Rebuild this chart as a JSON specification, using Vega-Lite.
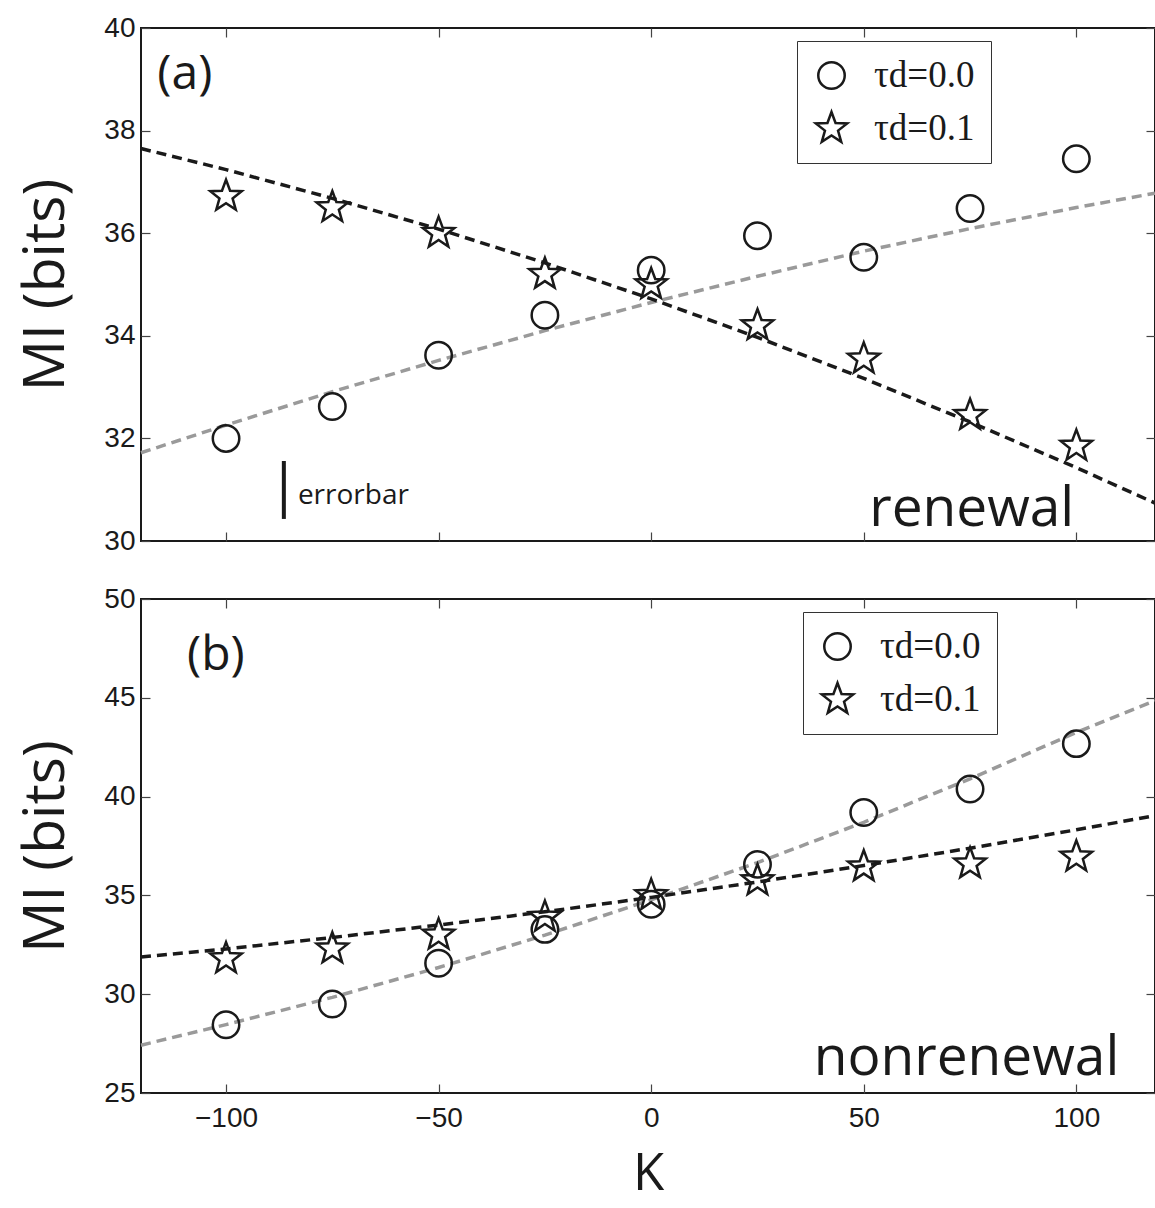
{
  "$schema": "https://vega.github.io/schema/vega-lite/v6.json",
  "background": "white",
  "padding": {"left": 16, "top": 13, "right": 0, "bottom": 6},
  "spacing": 28,
  "config": {
    "view": {"stroke": "#1a1a1a", "strokeWidth": 2},
    "axis": {
      "grid": false, "domain": false,
      "tickColor": "#444", "tickWidth": 1.2, "tickSize": -9,
      "labelFont": "Liberation Sans", "labelFontSize": 28, "labelColor": "#1a1a1a",
      "titleFont": "Open Sans", "titleFontSize": 57, "titleFontWeight": "normal", "titleColor": "#1a1a1a"
    },
    "legend": {
      "strokeColor": "#333", "fillColor": "white", "padding": 16,
      "labelFont": "Liberation Serif", "labelFontSize": 37, "labelColor": "#1a1a1a",
      "symbolSize": 700, "symbolStrokeWidth": 2.5, "symbolStrokeColor": "#1a1a1a",
      "labelOffset": 24, "rowPadding": 12
    }
  },
  "datasets": {
    "pts": [
      {"panel": "a", "series": "τd=0.0", "K": -100, "MI": 32.0},
      {"panel": "a", "series": "τd=0.0", "K": -75, "MI": 32.62},
      {"panel": "a", "series": "τd=0.0", "K": -50, "MI": 33.62},
      {"panel": "a", "series": "τd=0.0", "K": -25, "MI": 34.4},
      {"panel": "a", "series": "τd=0.0", "K": 0, "MI": 35.28},
      {"panel": "a", "series": "τd=0.0", "K": 25, "MI": 35.95},
      {"panel": "a", "series": "τd=0.0", "K": 50, "MI": 35.53},
      {"panel": "a", "series": "τd=0.0", "K": 75, "MI": 36.48},
      {"panel": "a", "series": "τd=0.0", "K": 100, "MI": 37.45},
      {"panel": "a", "series": "τd=0.1", "K": -100, "MI": 36.72},
      {"panel": "a", "series": "τd=0.1", "K": -75, "MI": 36.5},
      {"panel": "a", "series": "τd=0.1", "K": -50, "MI": 36.0},
      {"panel": "a", "series": "τd=0.1", "K": -25, "MI": 35.2},
      {"panel": "a", "series": "τd=0.1", "K": 0, "MI": 35.0},
      {"panel": "a", "series": "τd=0.1", "K": 25, "MI": 34.2},
      {"panel": "a", "series": "τd=0.1", "K": 50, "MI": 33.55},
      {"panel": "a", "series": "τd=0.1", "K": 75, "MI": 32.45},
      {"panel": "a", "series": "τd=0.1", "K": 100, "MI": 31.85},
      {"panel": "b", "series": "τd=0.0", "K": -100, "MI": 28.45},
      {"panel": "b", "series": "τd=0.0", "K": -75, "MI": 29.5},
      {"panel": "b", "series": "τd=0.0", "K": -50, "MI": 31.57},
      {"panel": "b", "series": "τd=0.0", "K": -25, "MI": 33.28},
      {"panel": "b", "series": "τd=0.0", "K": 0, "MI": 34.55},
      {"panel": "b", "series": "τd=0.0", "K": 25, "MI": 36.57},
      {"panel": "b", "series": "τd=0.0", "K": 50, "MI": 39.2},
      {"panel": "b", "series": "τd=0.0", "K": 75, "MI": 40.38},
      {"panel": "b", "series": "τd=0.0", "K": 100, "MI": 42.68},
      {"panel": "b", "series": "τd=0.1", "K": -100, "MI": 31.8},
      {"panel": "b", "series": "τd=0.1", "K": -75, "MI": 32.3},
      {"panel": "b", "series": "τd=0.1", "K": -50, "MI": 33.0},
      {"panel": "b", "series": "τd=0.1", "K": -25, "MI": 33.9},
      {"panel": "b", "series": "τd=0.1", "K": 0, "MI": 35.0},
      {"panel": "b", "series": "τd=0.1", "K": 25, "MI": 35.75},
      {"panel": "b", "series": "τd=0.1", "K": 50, "MI": 36.45},
      {"panel": "b", "series": "τd=0.1", "K": 75, "MI": 36.6},
      {"panel": "b", "series": "τd=0.1", "K": 100, "MI": 36.95}
    ],
    "fits": [
      {"panel": "a", "fit": "gray", "K": -120, "MI": 31.72},
      {"panel": "a", "fit": "gray", "K": -100, "MI": 32.26},
      {"panel": "a", "fit": "gray", "K": -75, "MI": 32.91},
      {"panel": "a", "fit": "gray", "K": -50, "MI": 33.52},
      {"panel": "a", "fit": "gray", "K": -25, "MI": 34.1},
      {"panel": "a", "fit": "gray", "K": 0, "MI": 34.65},
      {"panel": "a", "fit": "gray", "K": 25, "MI": 35.16},
      {"panel": "a", "fit": "gray", "K": 50, "MI": 35.65},
      {"panel": "a", "fit": "gray", "K": 75, "MI": 36.09},
      {"panel": "a", "fit": "gray", "K": 100, "MI": 36.5},
      {"panel": "a", "fit": "gray", "K": 118.5, "MI": 36.78},
      {"panel": "a", "fit": "black", "K": -120, "MI": 37.65},
      {"panel": "a", "fit": "black", "K": -100, "MI": 37.24},
      {"panel": "a", "fit": "black", "K": -75, "MI": 36.68},
      {"panel": "a", "fit": "black", "K": -50, "MI": 36.08},
      {"panel": "a", "fit": "black", "K": -25, "MI": 35.42},
      {"panel": "a", "fit": "black", "K": 0, "MI": 34.72},
      {"panel": "a", "fit": "black", "K": 25, "MI": 33.97},
      {"panel": "a", "fit": "black", "K": 50, "MI": 33.17},
      {"panel": "a", "fit": "black", "K": 75, "MI": 32.32},
      {"panel": "a", "fit": "black", "K": 100, "MI": 31.43},
      {"panel": "a", "fit": "black", "K": 118.5, "MI": 30.74},
      {"panel": "b", "fit": "gray", "K": -120, "MI": 27.42},
      {"panel": "b", "fit": "gray", "K": -100, "MI": 28.46},
      {"panel": "b", "fit": "gray", "K": -75, "MI": 29.84},
      {"panel": "b", "fit": "gray", "K": -50, "MI": 31.35},
      {"panel": "b", "fit": "gray", "K": -25, "MI": 32.99},
      {"panel": "b", "fit": "gray", "K": 0, "MI": 34.78},
      {"panel": "b", "fit": "gray", "K": 25, "MI": 36.66},
      {"panel": "b", "fit": "gray", "K": 50, "MI": 38.7},
      {"panel": "b", "fit": "gray", "K": 75, "MI": 40.9},
      {"panel": "b", "fit": "gray", "K": 100, "MI": 43.25},
      {"panel": "b", "fit": "gray", "K": 118.5, "MI": 44.85},
      {"panel": "b", "fit": "black", "K": -120, "MI": 31.88},
      {"panel": "b", "fit": "black", "K": -100, "MI": 32.29},
      {"panel": "b", "fit": "black", "K": -75, "MI": 32.87},
      {"panel": "b", "fit": "black", "K": -50, "MI": 33.5},
      {"panel": "b", "fit": "black", "K": -25, "MI": 34.17},
      {"panel": "b", "fit": "black", "K": 0, "MI": 34.9},
      {"panel": "b", "fit": "black", "K": 25, "MI": 35.68},
      {"panel": "b", "fit": "black", "K": 50, "MI": 36.51},
      {"panel": "b", "fit": "black", "K": 75, "MI": 37.39},
      {"panel": "b", "fit": "black", "K": 100, "MI": 38.32},
      {"panel": "b", "fit": "black", "K": 118.5, "MI": 39.04}
    ]
  },
  "resolve": {
    "scale": {"x": "independent", "y": "independent", "shape": "independent", "color": "independent"},
    "legend": {"shape": "independent"}
  },
  "vconcat": [
    {
      "width": 1014,
      "height": 513,
      "resolve": {"axis": {"x": "independent", "y": "independent"}},
      "layer": [
        {
          "data": {"name": "fits"},
          "transform": [{"filter": "datum.panel === 'a'"}],
          "mark": {"type": "line", "strokeDash": [10, 6], "strokeWidth": 3.5},
          "encoding": {
            "x": {"field": "K", "type": "quantitative", "scale": {"domain": [-120, 118.5], "nice": false, "zero": false},
                  "axis": {"orient": "top", "labels": false, "title": null, "values": [-100, -50, 0, 50, 100]}},
            "y": {"field": "MI", "type": "quantitative", "scale": {"domain": [30, 40], "nice": false, "zero": false},
                  "axis": {"orient": "right", "labels": false, "title": null, "values": [30, 32, 34, 36, 38, 40]}},
            "color": {"field": "fit", "type": "nominal", "scale": {"domain": ["gray", "black"], "range": ["#9a9a9a", "#1a1a1a"]}, "legend": null}
          }
        },
        {
          "data": {"name": "pts"},
          "transform": [{"filter": "datum.panel === 'a'"}],
          "mark": {"type": "point", "filled": false, "color": "#1a1a1a", "strokeWidth": 2.5, "size": 700, "opacity": 1},
          "encoding": {
            "x": {"field": "K", "type": "quantitative", "scale": {"domain": [-120, 118.5], "nice": false, "zero": false},
                  "axis": {"orient": "bottom", "labels": false, "title": null, "values": [-100, -50, 0, 50, 100]}},
            "y": {"field": "MI", "type": "quantitative", "scale": {"domain": [30, 40], "nice": false, "zero": false},
                  "axis": {"orient": "left", "title": "MI (bits)", "values": [30, 32, 34, 36, 38, 40], "labelPadding": 15, "titlePadding": 28}},
            "shape": {"field": "series", "type": "nominal",
                      "scale": {"domain": ["τd=0.0", "τd=0.1"], "range": ["circle", "M0,-1.25L0.306,-0.421L1.189,-0.386L0.495,0.161L0.735,1.011L0,0.52L-0.735,1.011L-0.495,0.161L-1.189,-0.386L-0.306,-0.421Z"]},
                      "legend": {"orient": "none", "legendX": 656, "legendY": 13, "title": null}}
          }
        },
        {
          "data": {"values": [{"K": -86.4, "lo": 30.43, "hi": 31.56}]},
          "mark": {"type": "rule", "strokeWidth": 4, "color": "#1a1a1a"},
          "encoding": {
            "x": {"field": "K", "type": "quantitative", "axis": null},
            "y": {"field": "lo", "type": "quantitative", "axis": null},
            "y2": {"field": "hi"}
          }
        },
        {
          "data": {"values": [{"K": -83.1, "MI": 30.72, "label": "errorbar"}]},
          "mark": {"type": "text", "align": "left", "baseline": "alphabetic", "font": "Open Sans", "fontSize": 28, "color": "#1a1a1a"},
          "encoding": {
            "x": {"field": "K", "type": "quantitative", "axis": null},
            "y": {"field": "MI", "type": "quantitative", "axis": null},
            "text": {"field": "label"}
          }
        },
        {
          "data": {"values": [{"K": -109.7, "MI": 39.08, "label": "(a)"}]},
          "mark": {"type": "text", "align": "center", "baseline": "middle", "font": "Open Sans", "fontSize": 48, "color": "#1a1a1a"},
          "encoding": {
            "x": {"field": "K", "type": "quantitative", "axis": null},
            "y": {"field": "MI", "type": "quantitative", "axis": null},
            "text": {"field": "label"}
          }
        },
        {
          "data": {"values": [{"K": 99.5, "MI": 30.29, "label": "renewal"}]},
          "mark": {"type": "text", "align": "right", "baseline": "alphabetic", "font": "Open Sans", "fontSize": 55, "color": "#1a1a1a"},
          "encoding": {
            "x": {"field": "K", "type": "quantitative", "axis": null},
            "y": {"field": "MI", "type": "quantitative", "axis": null},
            "text": {"field": "label"}
          }
        }
      ]
    },
    {
      "width": 1014,
      "height": 494,
      "resolve": {"axis": {"x": "independent", "y": "independent"}},
      "layer": [
        {
          "data": {"name": "fits"},
          "transform": [{"filter": "datum.panel === 'b'"}],
          "mark": {"type": "line", "strokeDash": [10, 6], "strokeWidth": 3.5},
          "encoding": {
            "x": {"field": "K", "type": "quantitative", "scale": {"domain": [-120, 118.5], "nice": false, "zero": false},
                  "axis": {"orient": "top", "labels": false, "title": null, "values": [-100, -50, 0, 50, 100]}},
            "y": {"field": "MI", "type": "quantitative", "scale": {"domain": [25, 50], "nice": false, "zero": false},
                  "axis": {"orient": "right", "labels": false, "title": null, "values": [25, 30, 35, 40, 45, 50]}},
            "color": {"field": "fit", "type": "nominal", "scale": {"domain": ["gray", "black"], "range": ["#9a9a9a", "#1a1a1a"]}, "legend": null}
          }
        },
        {
          "data": {"name": "pts"},
          "transform": [{"filter": "datum.panel === 'b'"}],
          "mark": {"type": "point", "filled": false, "color": "#1a1a1a", "strokeWidth": 2.5, "size": 700, "opacity": 1},
          "encoding": {
            "x": {"field": "K", "type": "quantitative", "scale": {"domain": [-120, 118.5], "nice": false, "zero": false},
                  "axis": {"orient": "bottom", "title": "K", "values": [-100, -50, 0, 50, 100], "labelPadding": 20, "titlePadding": 17, "titleFontSize": 51}},
            "y": {"field": "MI", "type": "quantitative", "scale": {"domain": [25, 50], "nice": false, "zero": false},
                  "axis": {"orient": "left", "title": "MI (bits)", "values": [25, 30, 35, 40, 45, 50], "labelPadding": 15, "titlePadding": 28}},
            "shape": {"field": "series", "type": "nominal",
                      "scale": {"domain": ["τd=0.0", "τd=0.1"], "range": ["circle", "M0,-1.25L0.306,-0.421L1.189,-0.386L0.495,0.161L0.735,1.011L0,0.52L-0.735,1.011L-0.495,0.161L-1.189,-0.386L-0.306,-0.421Z"]},
                      "legend": {"orient": "none", "legendX": 662, "legendY": 13, "title": null}}
          }
        },
        {
          "data": {"values": [{"K": -102.4, "MI": 47.12, "label": "(b)"}]},
          "mark": {"type": "text", "align": "center", "baseline": "middle", "font": "Open Sans", "fontSize": 48, "color": "#1a1a1a"},
          "encoding": {
            "x": {"field": "K", "type": "quantitative", "axis": null},
            "y": {"field": "MI", "type": "quantitative", "axis": null},
            "text": {"field": "label"}
          }
        },
        {
          "data": {"values": [{"K": 110.1, "MI": 25.91, "label": "nonrenewal"}]},
          "mark": {"type": "text", "align": "right", "baseline": "alphabetic", "font": "Open Sans", "fontSize": 55, "color": "#1a1a1a"},
          "encoding": {
            "x": {"field": "K", "type": "quantitative", "axis": null},
            "y": {"field": "MI", "type": "quantitative", "axis": null},
            "text": {"field": "label"}
          }
        }
      ]
    }
  ]
}
